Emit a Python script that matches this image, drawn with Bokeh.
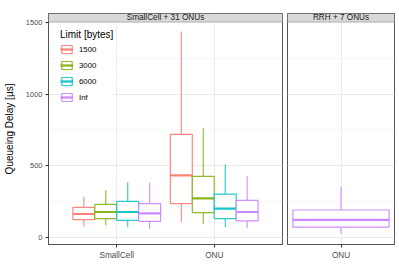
from bokeh.plotting import figure
from bokeh.layouts import row
from bokeh.models import (ColumnDataSource, FactorRange, FixedTicker, Legend, LegendItem,
                          BoxAnnotation, Label)
from bokeh.transform import dodge
from bokeh.embed import file_html
from bokeh.resources import INLINE

# ---- data ----
groups_left = ["SmallCell", "ONU"]
groups_right = ["ONU"]
limits = ["1500", "3000", "6000", "Inf"]
colors = ["#F8766D", "#7CAE00", "#00BFC4", "#C77CFF"]

# per limit: values for [SmallCell, ONU] in the "SmallCell + 31 ONUs" panel
lower = {"1500": [79, 109], "3000": [86, 95], "6000": [72, 74], "Inf": [62, 65]}
q1 = {"1500": [125, 236], "3000": [132, 174], "6000": [120, 132], "Inf": [113, 116]}
median = {"1500": [164, 433], "3000": [178, 273], "6000": [178, 201], "Inf": [169, 178]}
q3 = {"1500": [210, 720], "3000": [231, 426], "6000": [252, 303], "Inf": [236, 259]}
upper = {"1500": [287, 1437], "3000": [329, 762], "6000": [386, 509], "Inf": [382, 428]}

# "RRH + 7 ONUs" panel, limit Inf only
rrh_lower = [26]
rrh_q1 = [72]
rrh_median = [123]
rrh_q3 = [192]
rrh_upper = [352]

strip_left = "SmallCell + 31 ONUs"
strip_right = "RRH + 7 ONUs"
y_ticks = [0, 500, 1000, 1500]
y_minor = [250, 750, 1250]
y_label = "Queueing Delay [µs]"
legend_title = "Limit [bytes]"

FONT = "Liberation Sans"
Y_START, Y_END = -48.6, 1562.5
STRIP_BOTTOM = 1503.5
H = 262


def style(p):
    p.background_fill_color = "white"
    p.border_fill_color = "white"
    p.outline_line_color = "#555555"
    p.outline_line_width = 1
    p.ygrid.ticker = FixedTicker(ticks=y_ticks, minor_ticks=y_minor)
    p.ygrid.grid_line_color = "#EBEBEB"
    p.ygrid.grid_line_width = 1
    p.ygrid.minor_grid_line_color = "#F4F4F4"
    p.ygrid.minor_grid_line_width = 0.7
    p.xgrid.grid_line_color = "#EBEBEB"
    p.xgrid.grid_line_width = 1
    for ax in p.axis:
        ax.axis_line_color = "#555555"
        ax.major_tick_line_color = "#333333"
        ax.major_tick_out = 3
        ax.major_tick_in = 0
        ax.minor_tick_out = 0
        ax.minor_tick_in = 0
        ax.major_label_text_font = FONT
        ax.major_label_text_color = "#4D4D4D"
        ax.major_label_standoff = 3
    p.xaxis.major_label_text_font_size = "8.2px"
    p.yaxis.major_label_text_font_size = "7.5px"
    p.yaxis.ticker = FixedTicker(ticks=y_ticks, minor_ticks=y_minor)


def strip(p, text, center):
    p.add_layout(BoxAnnotation(bottom=STRIP_BOTTOM, fill_color="#D9D9D9", fill_alpha=1,
                               line_color="#555555", line_width=1))
    p.add_layout(Label(x=center, y=(STRIP_BOTTOM + Y_END) / 2, text=text,
                       text_align="center", text_baseline="middle",
                       text_font=FONT, text_font_size="8.2px", text_color="#1A1A1A"))


def boxes(p, groups, lo, a, m, b, hi, color, offset, width):
    src = ColumnDataSource(dict(g=groups, lo=lo, q1=a, med=m, q3=b, hi=hi))
    xc = dodge("g", offset, range=p.x_range)
    xl = dodge("g", offset - width / 2, range=p.x_range)
    xr = dodge("g", offset + width / 2, range=p.x_range)
    p.segment(x0=xc, y0="q3", x1=xc, y1="hi", source=src, line_color=color, line_width=1.1, line_alpha=0.85)
    p.segment(x0=xc, y0="lo", x1=xc, y1="q1", source=src, line_color=color, line_width=1.1, line_alpha=0.85)
    box = p.vbar(x=xc, width=width, top="q3", bottom="q1", source=src, fill_color="white",
                 line_color=color, line_width=1.2, line_alpha=0.85)
    med = p.segment(x0=xl, y0="med", x1=xr, y1="med", source=src, line_color=color, line_width=2.2,
                    line_alpha=0.9)
    return [box, med]


# ---- left panel ----
p1 = figure(width=284, height=H, output_backend="svg", toolbar_location=None,
            x_range=FactorRange(factors=groups_left, range_padding=0.2, range_padding_units="absolute"),
            y_range=(Y_START, Y_END), min_border_left=46, min_border_right=2,
            min_border_top=13, min_border_bottom=17)
style(p1)
p1.yaxis.axis_label = y_label
p1.yaxis.axis_label_text_font = FONT
p1.yaxis.axis_label_text_font_size = "10px"
p1.yaxis.axis_label_text_font_style = "normal"
p1.yaxis.axis_label_text_color = "black"
p1.yaxis.axis_label_standoff = 8

bw = 0.9 / len(limits)
items = []
for j, lim in enumerate(limits):
    off = (j - (len(limits) - 1) / 2) * bw
    rs = boxes(p1, groups_left, lower[lim], q1[lim], median[lim], q3[lim], upper[lim],
               colors[j], off, bw)
    items.append(LegendItem(label=lim, renderers=rs))

strip(p1, strip_left, len(groups_left) / 2)

legend = Legend(items=items, location=(12, 141), title=legend_title)
legend.title_text_font = FONT
legend.title_text_font_size = "10px"
legend.title_text_font_style = "normal"
legend.title_text_color = "black"
legend.title_standoff = 3
legend.label_text_font = FONT
legend.label_text_font_size = "7.8px"
legend.label_text_color = "black"
legend.glyph_width = 13
legend.glyph_height = 10
legend.label_height = 12
legend.label_standoff = 6
legend.spacing = 4
legend.padding = 0
legend.margin = 0
legend.border_line_color = None
legend.background_fill_color = "white"
legend.background_fill_alpha = 1
p1.add_layout(legend)

# ---- right panel ----
p2 = figure(width=111, height=H, output_backend="svg", toolbar_location=None,
            x_range=FactorRange(factors=groups_right, range_padding=0.0, range_padding_units="absolute"),
            y_range=(Y_START, Y_END), min_border_left=3, min_border_right=1,
            min_border_top=13, min_border_bottom=17)
style(p2)
p2.yaxis.visible = False
boxes(p2, groups_right, rrh_lower, rrh_q1, rrh_median, rrh_q3, rrh_upper, colors[3], 0.0, 0.9)
strip(p2, strip_right, len(groups_right) / 2)

layout = row(p1, p2, spacing=0)
open("out.html", "w").write(file_html(layout, INLINE))
